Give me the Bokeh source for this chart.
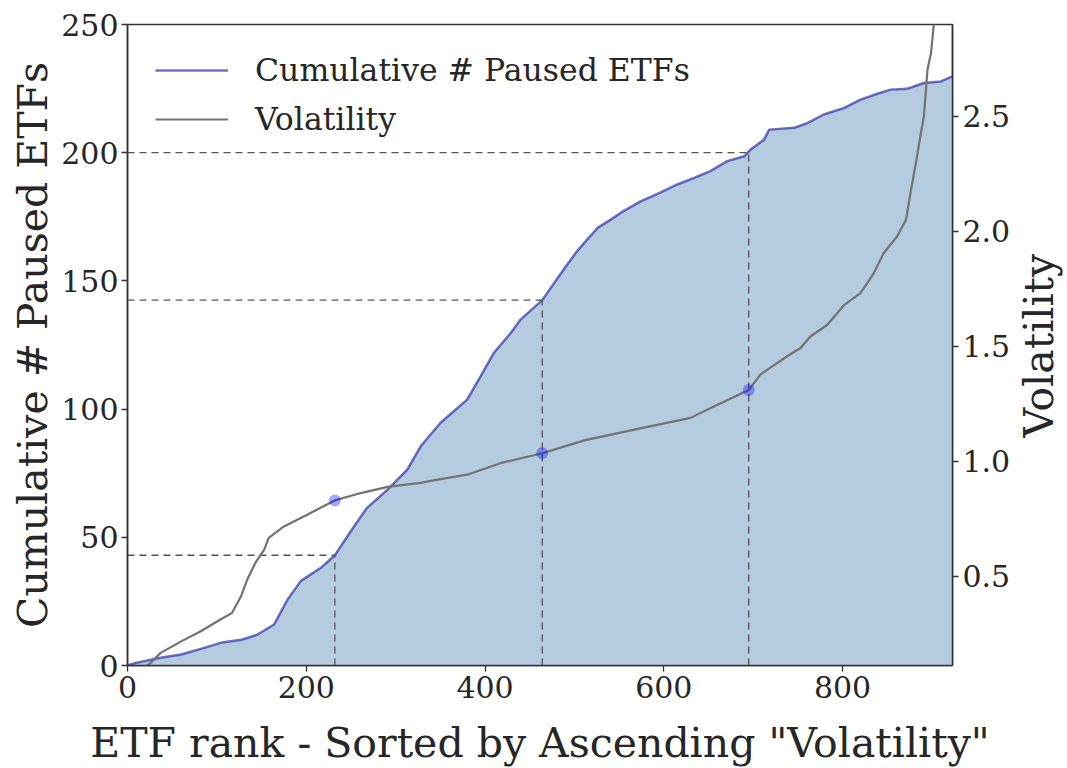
import math
from bokeh.plotting import figure
from bokeh.layouts import row
from bokeh.models import Range1d, LinearAxis, Legend, LegendItem, FixedTicker, NumeralTickFormatter
from bokeh.core.properties import value
from bokeh.embed import file_html
from bokeh.resources import INLINE

# ---- data ----
cum_x = [0, 9, 37, 60, 82, 106, 127, 145, 164, 179, 194, 216, 232, 253, 268, 291, 313, 328, 350, 380,
         395, 410, 429, 440, 464, 477, 492, 503, 514, 526, 541, 552, 574, 596, 615, 634, 652, 671, 690,
         697, 712, 718, 746, 761, 779, 802, 820, 839, 854, 872, 891, 910, 923]
cum_y = [0, 1, 3, 4.3, 6.5, 9, 10, 12, 16, 25.7, 33, 38, 43, 54, 61.5, 68.6, 76.4, 85.5, 94.6, 103.7,
         112.8, 122, 129.8, 135, 142.5, 149, 156.4, 161.6, 166, 170.7, 174, 176.6, 181, 184.4, 187.6, 190.2,
         192.8, 196.7, 198.6, 201.2, 205, 209, 209.7, 211.6, 214.9, 217.5, 220.7, 223, 224.6, 224.9, 227.2,
         227.8, 229.8]

vol_x = [22, 26, 37, 60, 82, 104, 117, 127, 134, 143, 153, 158, 175, 201, 232, 261, 291, 328, 339, 380,
         418, 464, 511, 567, 630, 649, 695, 708, 716, 738, 753, 764, 783, 802, 820, 835, 846, 861, 871,
         876, 882, 887, 891, 895, 899, 902, 905]
vol_y = [0.112, 0.124, 0.167, 0.217, 0.261, 0.312, 0.341, 0.413, 0.486, 0.558, 0.616, 0.667, 0.717, 0.768,
         0.83, 0.862, 0.889, 0.906, 0.915, 0.942, 0.993, 1.035, 1.091, 1.138, 1.189, 1.225, 1.31, 1.377,
         1.399, 1.457, 1.493, 1.543, 1.594, 1.681, 1.732, 1.819, 1.906, 1.978, 2.051, 2.167, 2.297, 2.413,
         2.5, 2.703, 2.776, 2.899, 3.1]

q_x = [232, 464, 695]          # quartile ranks
q_cum = [43, 142.5, 200]       # cumulative count at quartiles
q_vol = [0.83, 1.035, 1.31]    # volatility at quartiles

x_ticks = [0, 200, 400, 600, 800]
y_ticks = [0, 50, 100, 150, 200, 250]
vol_ticks = [0.5, 1.0, 1.5, 2.0, 2.5]
right_title = ["Volatility"]

FONT = "DejaVu Serif"
TXT = "#262626"
AX = "#333333"

p = figure(frame_width=825, frame_height=641, output_backend="svg", toolbar_location=None,
           x_range=Range1d(0, 923), y_range=Range1d(0, 250),
           min_border_left=127, min_border_top=24, min_border_right=60, min_border_bottom=10)
p.extra_y_ranges = {"vol": Range1d(0.112, 2.9)}
p.xgrid.visible = False
p.ygrid.visible = False
p.outline_line_color = AX
p.outline_line_width = 1.5
p.background_fill_color = "white"

# fill + cumulative line
p.varea(x=cum_x, y1=[0] * len(cum_x), y2=cum_y, fill_color="#b5cce0", fill_alpha=1.0)
r_cum = p.line(cum_x, cum_y, line_color="#1a1aa0", line_alpha=0.62, line_width=2.5)

# dashed guides
p.segment(x0=[0] * 3, y0=q_cum, x1=q_x, y1=q_cum, line_color="#555555", line_dash="7 5", line_width=1.3)
p.segment(x0=q_x, y0=[0] * 3, x1=q_x, y1=q_cum, line_color="#555555", line_dash="7 5", line_width=1.3)

# volatility
r_vol = p.line(vol_x, vol_y, y_range_name="vol", line_color="#727272", line_width=2.2)
p.scatter(q_x, q_vol, y_range_name="vol", size=12, fill_color="#0000ff", fill_alpha=0.35, line_color=None)

# axes
p.xaxis.ticker = FixedTicker(ticks=x_ticks)
p.yaxis.ticker = FixedTicker(ticks=y_ticks)
p.xaxis.axis_label = 'ETF rank - Sorted by Ascending "Volatility"'
p.yaxis.axis_label = "Cumulative # Paused ETFs"

raxis = LinearAxis(y_range_name="vol", ticker=FixedTicker(ticks=vol_ticks),
                   formatter=NumeralTickFormatter(format="0.0"))
p.add_layout(raxis, "right")

for ax in [p.xaxis[0], p.yaxis[0], raxis]:
    ax.axis_line_color = AX
    ax.axis_line_width = 1.5
    ax.major_tick_line_color = AX
    ax.major_tick_line_width = 1.3
    ax.major_tick_out = 6
    ax.major_tick_in = 0
    ax.minor_tick_line_color = None
    ax.major_label_text_font = FONT
    ax.major_label_text_font_size = "30px"
    ax.major_label_text_color = TXT
    ax.axis_label_text_font = FONT
    ax.axis_label_text_font_size = "41px"
    ax.axis_label_text_font_style = "normal"
    ax.axis_label_text_color = TXT

p.xaxis.major_label_standoff = 4
p.xaxis.axis_label_standoff = 18
p.yaxis.major_label_standoff = 3
p.yaxis.axis_label_standoff = 1
raxis.major_label_standoff = 4

legend = Legend(items=[LegendItem(label="Cumulative # Paused ETFs", renderers=[r_cum]),
                       LegendItem(label="Volatility", renderers=[r_vol])],
                location="top_left", margin=28, padding=0, spacing=13,
                glyph_width=73, glyph_height=32, label_height=32, label_standoff=27,
                label_text_font=FONT, label_text_font_size="31.5px", label_text_color=TXT,
                border_line_color=None, background_fill_alpha=0.0)
p.add_layout(legend)

# narrow side strip carrying the right-hand axis title (reads bottom-to-top)
p2 = figure(width=50, height=700, output_backend="svg", toolbar_location=None,
            x_range=Range1d(0, 50), y_range=Range1d(0, 700),
            x_axis_location=None, y_axis_location=None,
            min_border=0, min_border_left=0, min_border_right=0, min_border_top=0, min_border_bottom=0)
p2.outline_line_color = None
p2.xgrid.visible = False
p2.ygrid.visible = False
p2.text(x=[25], y=[307], text=right_title, angle=math.pi / 2, text_align="center",
        text_baseline="middle", text_font=value(FONT), text_font_size="41px", text_color=TXT)

layout = row(p, p2)
open("out.html", "w").write(file_html(layout, INLINE))
